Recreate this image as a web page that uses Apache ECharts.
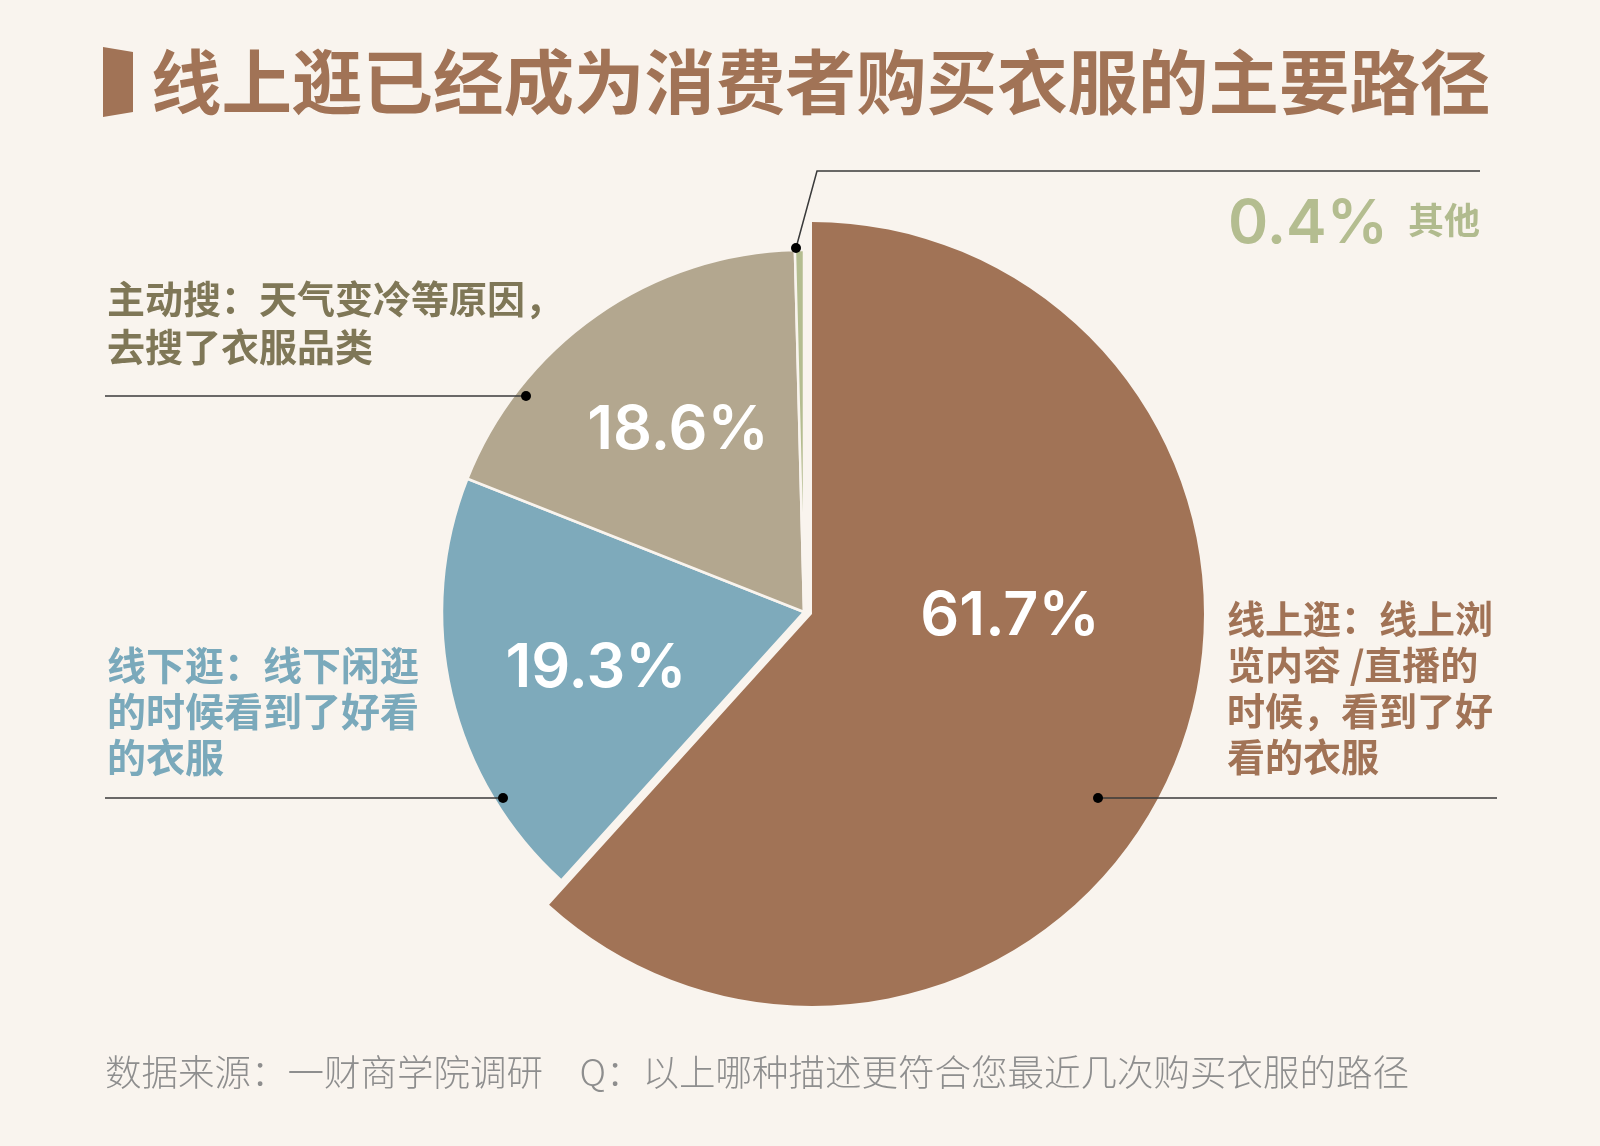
<!DOCTYPE html>
<html><head><meta charset="utf-8">
<script src="https://cdn.jsdelivr.net/npm/echarts@6/dist/echarts.min.js"></script>
<style>html,body{margin:0;padding:0;background:#f9f4ee}#c{width:1600px;height:1146px}</style>
</head><body><div id="c"></div>
<script>
// ---- data ----
const categories = ['线上逛', '线下逛', '主动搜', '其他'];
const values = [61.7, 19.3, 18.6, 0.4];
const notes = [
  '线上逛：线上浏\n览内容 /直播的\n时候，看到了好\n看的衣服',
  '线下逛：线下闲逛\n的时候看到了好看\n的衣服',
  '主动搜：天气变冷等原因，\n去搜了衣服品类',
  '其他'
];
const titleText = '线上逛已经成为消费者购买衣服的主要路径';
const sourceText = '数据来源：一财商学院调研　Q：以上哪种描述更符合您最近几次购买衣服的路径';

// ---- style / layout ----
const BG = '#f9f4ee';
const colors = ['#a17356', '#7eaabb', '#b3a78f', '#b4bd90'];
const noteColors = ['#a17356', '#7aa9bb', '#7f7757', '#b1bb8e'];
const CJK = '"Noto Sans CJK SC", sans-serif';
const NUM = 'Inter, "Noto Sans", sans-serif';
const C_BIG = [812, 614], R_BIG = 392;
const C_SMALL = [804, 612], R_SMALL = 362;
const pctPos = [[1010, 617], [596, 669], [678, 431], [1480, 225]];
const notePos = [[1227, 596, 46, 38], [107, 642, 46, 39], [107, 275, 48, 38]];
const dots = [[1098, 798], [503, 798], [526, 396], [796, 248]];
const lineRuns = [
  [[1098, 798], [1497, 798]],
  [[503, 798], [105, 798]],
  [[526, 396], [105, 396]],
  [[796, 248], [817, 171], [1480, 171]]
];

const TRANSPARENT = 'rgba(0,0,0,0)';

function pieData(visibleFn, labelFn) {
  return values.map((v, i) => ({
    name: categories[i],
    value: v,
    itemStyle: visibleFn(i)
      ? { color: colors[i] }
      : { color: TRANSPARENT, borderWidth: 0 },
    label: { show: labelFn(i) }
  }));
}

const chart = echarts.init(document.getElementById('c'), null, { renderer: 'canvas' });

const graphics = [
  { type: 'polygon', z: 100, shape: { points: [[103, 47], [133, 52], [133, 112], [103, 117]] }, style: { fill: '#a17356' } }
];
lineRuns.forEach(pts => graphics.push({
  type: 'polyline', z: 100, shape: { points: pts },
  style: { stroke: '#3a3a3a', lineWidth: 1.5, fill: null }
}));
dots.forEach(d => graphics.push({
  type: 'circle', z: 101, shape: { cx: d[0], cy: d[1], r: 5 }, style: { fill: '#000' }
}));

chart.setOption({
  backgroundColor: BG,
  animation: false,
  title: [
    { text: titleText, left: 151, top: 44, padding: 0,
      textStyle: { fontFamily: CJK, fontSize: 70.5, fontWeight: 'bold', color: '#a17356', lineHeight: 76 } },
    { text: sourceText, left: 105, top: 1052, padding: 0,
      textStyle: { fontFamily: CJK, fontSize: 36.5, fontWeight: 300, color: '#8e8e8e', lineHeight: 40 } }
  ],
  graphic: graphics,
  series: [
    {
      type: 'pie', name: 'big', silent: true,
      center: C_BIG, radius: R_BIG, startAngle: 90, clockwise: true,
      avoidLabelOverlap: false,
      data: pieData(i => i === 0, i => i === 0),
      label: {
        position: 'inside', formatter: p => p.value.toFixed(1) + '%',
        fontFamily: NUM, fontSize: 61, fontWeight: 600, color: '#fff'
      },
      labelLine: { show: false },
      labelLayout: p => ({ x: pctPos[p.dataIndex][0], y: pctPos[p.dataIndex][1], align: 'center', verticalAlign: 'middle' })
    },
    {
      type: 'pie', name: 'small', silent: true,
      center: C_SMALL, radius: R_SMALL, startAngle: 90, clockwise: true,
      avoidLabelOverlap: false,
      itemStyle: { borderColor: BG, borderWidth: 2.5 },
      data: pieData(i => i !== 0, i => i !== 0),
      label: {
        position: 'inside',
        formatter: p => p.dataIndex === 3
          ? '{p|' + p.value.toFixed(1) + '%}{g| }{n|' + notes[3] + '}'
          : p.value.toFixed(1) + '%',
        fontFamily: NUM, fontSize: 61, fontWeight: 600, color: '#fff',
        rich: {
          p: { fontFamily: NUM, fontSize: 61, fontWeight: 600, color: colors[3], verticalAlign: 'middle' },
          g: { fontSize: 20, width: 20 },
          n: { fontFamily: CJK, fontSize: 36, fontWeight: 'bold', color: noteColors[3], verticalAlign: 'middle', padding: [0, 0, 10, 0] }
        }
      },
      labelLine: { show: false },
      labelLayout: p => ({
        x: pctPos[p.dataIndex][0], y: pctPos[p.dataIndex][1],
        align: p.dataIndex === 3 ? 'right' : 'center', verticalAlign: 'middle'
      })
    },
    {
      type: 'pie', name: 'notes', silent: true,
      center: C_SMALL, radius: R_SMALL, startAngle: 90, clockwise: true,
      avoidLabelOverlap: false,
      data: values.map((v, i) => ({
        name: categories[i], value: v,
        itemStyle: { color: TRANSPARENT, borderWidth: 0 },
        label: i === 3 ? { show: false } : {
          show: true, color: noteColors[i],
          lineHeight: notePos[i][2], fontSize: notePos[i][3]
        }
      })),
      label: {
        position: 'outside', formatter: p => notes[p.dataIndex],
        fontFamily: CJK, fontSize: 38, fontWeight: 'bold'
      },
      labelLine: { show: false },
      labelLayout: p => {
        const q = notePos[p.dataIndex];
        return q ? { x: q[0], y: q[1], align: 'left', verticalAlign: 'top' } : {};
      }
    }
  ]
});
</script></body></html>
